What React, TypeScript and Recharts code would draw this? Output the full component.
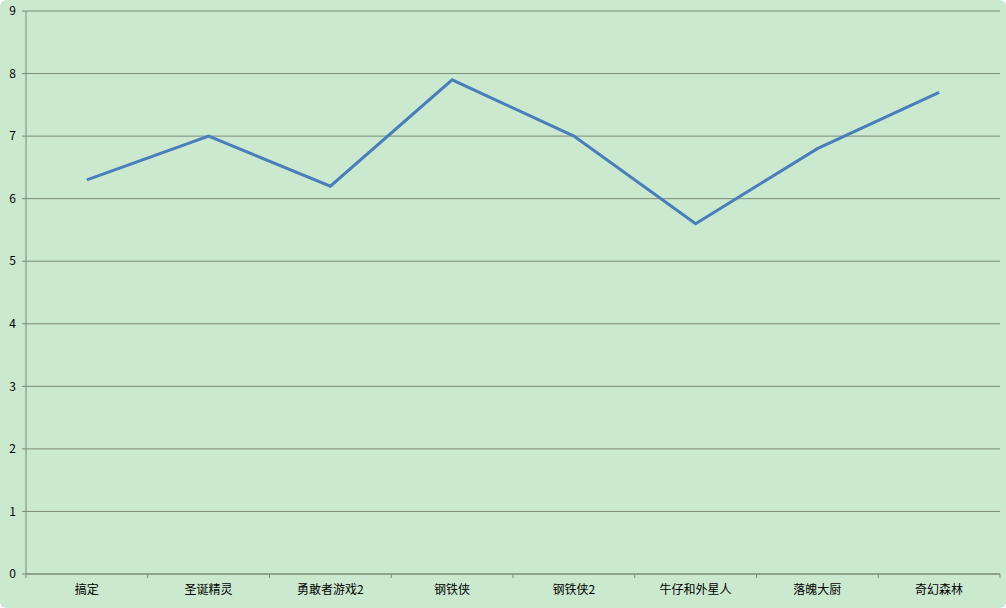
import React from 'react';
import { LineChart, Line, XAxis, YAxis, CartesianGrid } from 'recharts';

const categories = ['搞定', '圣诞精灵', '勇敢者游戏2', '钢铁侠', '钢铁侠2', '牛仔和外星人', '落魄大厨', '奇幻森林'];
const scores = [6.3, 7.0, 6.2, 7.9, 7.0, 5.6, 6.8, 7.7];
const yTicks = [0, 1, 2, 3, 4, 5, 6, 7, 8, 9];

const data = categories.map((name, i) => ({ name, score: scores[i] }));

const FONT = '"Noto Sans CJK SC", "Liberation Sans", sans-serif';
const AXIS = '#7a8a7a';
const X_TICK_MARGIN = 11;
const X_TICK_LEN = 4;

const CategoryTick = (props: any) => {
  const { x, y, payload, index, visibleTicksCount } = props;
  const half = payload && payload.offset ? payload.offset : 0;
  const axisY = y - X_TICK_MARGIN;
  const last = index === visibleTicksCount - 1;
  return (
    <g>
      <line x1={x - half} x2={x - half} y1={axisY} y2={axisY + X_TICK_LEN} stroke={AXIS} />
      {last ? (
        <line x1={x + half} x2={x + half} y1={axisY} y2={axisY + X_TICK_LEN} stroke={AXIS} />
      ) : null}
      <text
        x={x}
        y={y}
        dy="0.71em"
        textAnchor="middle"
        fill="#000"
        fontSize={12}
        fontFamily={FONT}
      >
        {payload.value}
      </text>
    </g>
  );
};

export default function App() {
  return (
    <div
      style={{
        position: 'absolute',
        left: 0,
        top: 0,
        width: 1006,
        height: 608,
        background: '#cbe9cf',
        borderRadius: 6,
        overflow: 'hidden',
      }}
    >
      <LineChart
        width={1006}
        height={608}
        data={data}
        margin={{ top: 11, right: 6, bottom: 0, left: 0 }}
      >
        <CartesianGrid vertical={false} stroke={AXIS} strokeWidth={1} />
        <XAxis
          dataKey="name"
          scale="band"
          height={34}
          axisLine={{ stroke: AXIS }}
          tickLine={false}
          tickSize={0}
          interval={0}
          tick={<CategoryTick />}
          tickMargin={X_TICK_MARGIN}
        />
        <YAxis
          width={26}
          domain={[0, 9]}
          ticks={yTicks}
          interval={0}
          axisLine={{ stroke: AXIS }}
          tickLine={{ stroke: AXIS }}
          tickSize={4}
          tick={{ fill: '#000', fontSize: 12, fontFamily: FONT, dx: -4 }}
        />
        <Line
          type="linear"
          dataKey="score"
          stroke="#4a7ebb"
          strokeWidth={3}
          dot={false}
          isAnimationActive={false}
        />
      </LineChart>
    </div>
  );
}
